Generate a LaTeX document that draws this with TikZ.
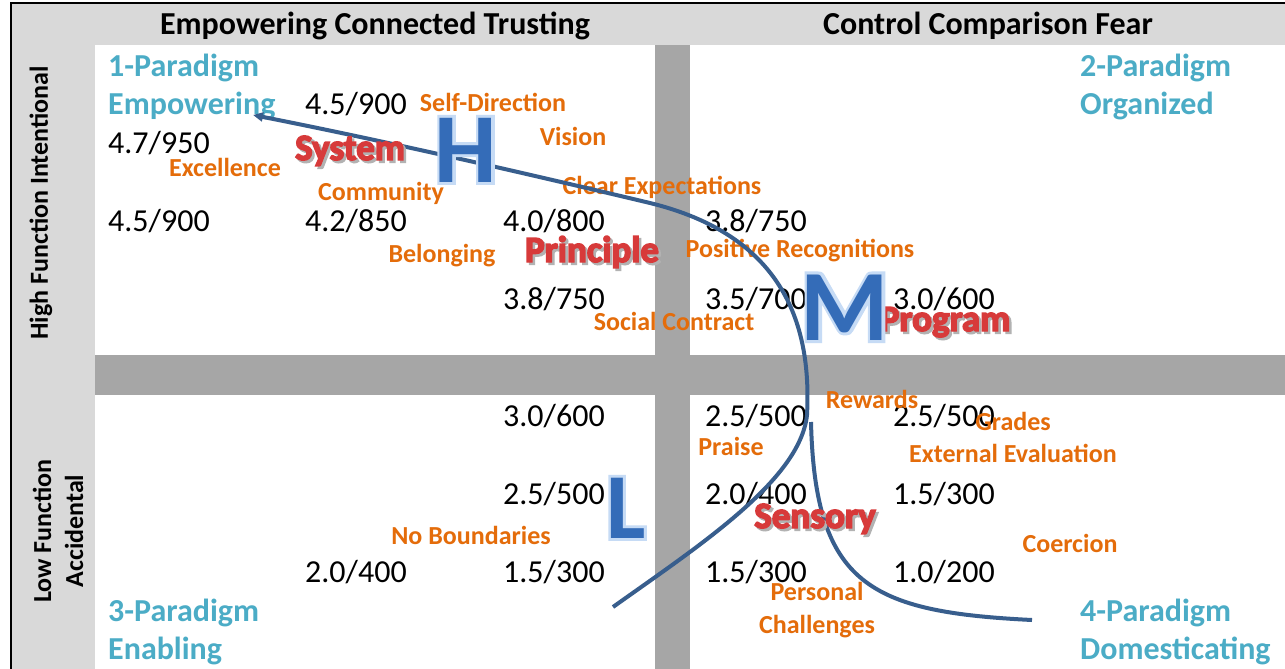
\documentclass[tikz,border=0pt]{standalone}
\usepackage{fontspec}
\setmainfont{Carlito}
\newfontfamily\artfont[FakeBold=4]{Carlito Bold}
\newfontfamily\glowfont[FakeBold=6]{Carlito Bold}
\usetikzlibrary{arrows.meta}

\definecolor{headgray}{RGB}{217,217,217}
\definecolor{bargray}{RGB}{166,166,166}
\definecolor{paratxt}{RGB}{75,172,198}
\definecolor{tagorange}{RGB}{228,108,10}
\definecolor{artred}{RGB}{215,58,58}
\definecolor{lineblue}{RGB}{56,94,141}
\definecolor{letterblue}{RGB}{52,108,184}
\definecolor{glowblue}{RGB}{198,219,245}

% red word with a soft shadow, blue letter with a glow
\newcommand{\artword}[1]{\makebox[0pt][l]{\hspace{2.5pt}\raisebox{-2.5pt}{\color{black!30}#1}}#1}
\newcommand{\glowword}[1]{\makebox[0pt][l]{{\glowfont\color{glowblue}#1}}#1}

\begin{document}
\begin{tikzpicture}[
  x=1pt,y=-1pt,
  value/.style={anchor=base west,inner sep=0pt,font=\fontsize{32}{38}\selectfont},
  tag/.style={anchor=base,inner sep=0pt,text=tagorange,font=\bfseries\fontsize{26}{33}\selectfont},
  paradigm/.style={anchor=west,align=left,inner sep=0pt,text=paratxt,font=\bfseries\fontsize{32}{38.5}\selectfont},
  heading/.style={anchor=base,inner sep=0pt,font=\bfseries\fontsize{32}{38}\selectfont},
  side/.style={rotate=90,align=center,inner sep=0pt,font=\bfseries\fontsize{26}{32}\selectfont},
  art/.style={anchor=base,inner sep=0pt,text=artred,font=\artfont\fontsize{37}{40}\selectfont},
  bigletter/.style={anchor=base,inner sep=0pt,text=letterblue,font=\bfseries\fontsize{#1}{#1}\selectfont},
  curve/.style={draw=lineblue,line width=4pt},
]
\useasboundingbox (0,0) rectangle (1285,669);

% frame, headers and dividers
\fill[headgray] (12,4) rectangle (1285,669);
\fill[white] (95,45) rectangle (1285,669);
\fill[bargray] (655,45) rectangle (690,669);
\fill[bargray] (95,355) rectangle (1285,395);
\draw[line width=2.5pt] (11,669) -- (11,3) -- (1285,3);

\node (headleft) [heading] at (375,35) {Empowering Connected Trusting};
\node (headright) [heading] at (988,35) {Control Comparison Fear};
\node (high) [side] at (41,203) {High Function Intentional};
\node (low) [side] at (58,531) {Low Function\\Accidental};

% quadrant names
\node (para1) [paradigm] at (108,87) {1-Paradigm\\Empowering};
\node (para2) [paradigm] at (1080,87) {2-Paradigm\\Organized};
\node (para3) [paradigm] at (108,632) {3-Paradigm\\Enabling};
\node (para4) [paradigm] at (1080,632) {4-Paradigm\\Domesticating};

% scores
\node (s1) [value] at (305,114) {4.5/900};
\node (s2) [value] at (108,153) {4.7/950};
\node (s3) [value] at (108,231) {4.5/900};
\node (s4) [value] at (305,231) {4.2/850};
\node (s5) [value] at (503,231) {4.0/800};
\node (s6) [value] at (705,231) {3.8/750};
\node (s7) [value] at (503,309) {3.8/750};
\node (s8) [value] at (705,309) {3.5/700};
\node (s9) [value] at (893,309) {3.0/600};
\node (s10) [value] at (503,426) {3.0/600};
\node (s11) [value] at (705,426) {2.5/500};
\node (s12) [value] at (893,426) {2.5/500};
\node (s13) [value] at (503,504) {2.5/500};
\node (s14) [value] at (705,504) {2.0/400};
\node (s15) [value] at (893,504) {1.5/300};
\node (s16) [value] at (305,582) {2.0/400};
\node (s17) [value] at (503,582) {1.5/300};
\node (s18) [value] at (705,582) {1.5/300};
\node (s19) [value] at (893,582) {1.0/200};

% orange tags
\node (selfdir) [tag] at (493,111) {Self-Direction};
\node (vision) [tag] at (573,145) {Vision};
\node (excel) [tag] at (225,176) {Excellence};
\node (commun) [tag] at (381,200) {Community};
\node (clear) [tag] at (662,194) {Clear Expectations};
\node (belong) [tag] at (442,262) {Belonging};
\node (posrec) [tag] at (800,257) {Positive Recognitions};
\node (social) [tag] at (674,330) {Social Contract};
\node (reward) [tag] at (872,408) {Rewards};
\node (grades) [tag] at (1013,430) {Grades};
\node (praise) [tag] at (731,455) {Praise};
\node (exteval) [tag] at (1013,462) {External Evaluation};
\node (nobound) [tag] at (471,544) {No Boundaries};
\node (coerc) [tag] at (1070,552) {Coercion};
\node (personal) [tag,anchor=center,align=center] at (817,610) {Personal\\Challenges};

% curves
\coordinate (a0) at (613,607);
\coordinate (a1) at (807,415);
\coordinate (a2) at (650,203);
\coordinate (a3) at (253,115);
\draw[curve,-{Triangle[length=10pt,width=9pt]}] (a0) .. controls (700,545) and (800,480) .. (a1)
  .. controls (812,320) and (780,235) .. (a2) .. controls (520,172) and (380,140) .. (a3);
\coordinate (b0) at (811,422);
\coordinate (b1) at (1032,620);
\draw[curve] (b0) .. controls (815,585) and (870,612) .. (b1);

% red words
\node (system) [art] at (350,160) {\artword{System}};
\node (principle) [art] at (592,262) {\artword{Principle}};
\node (program) [art] at (945,331) {\artword{Program}};
\node (sensory) [art] at (815,528) {\artword{Sensory}};

% big letters
\node (high-h) [bigletter=99] at (466,182) {\glowword{H}};
\node (mid-m) [bigletter=101] at (845,340) {\glowword{M}};
\node (low-l) [bigletter=93] at (626,538) {\glowword{L}};
\end{tikzpicture}
\end{document}
